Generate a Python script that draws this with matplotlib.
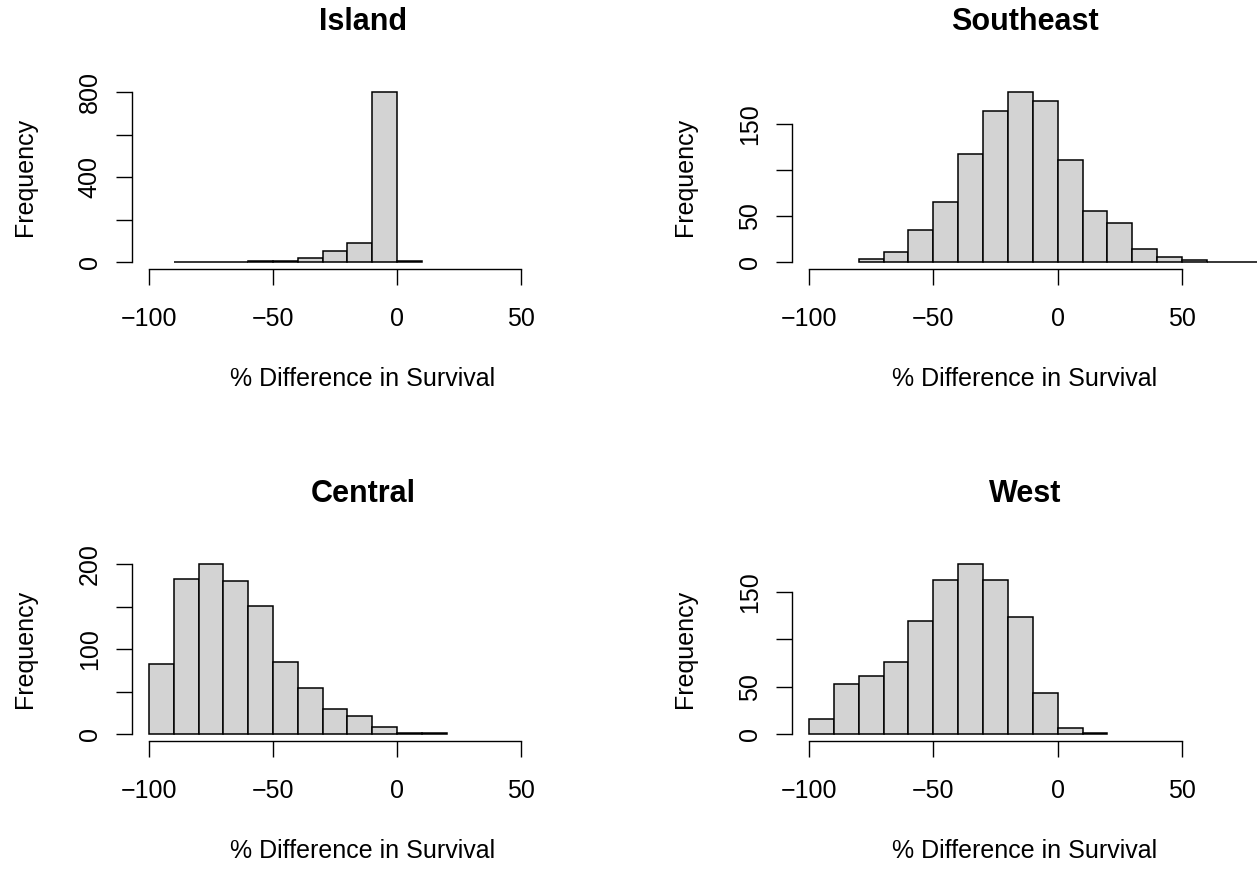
import matplotlib
matplotlib.use("Agg")
import matplotlib.pyplot as plt

plt.rcParams['font.family'] = ['Liberation Sans', 'DejaVu Sans']

# ---------------- data ----------------
island_edges = [-90, -80, -70, -60, -50, -40, -30, -20, -10, 0, 10]
island_counts = [2, 3, 2, 5, 8, 23, 52, 93, 802, 5]

southeast_edges = [-80, -70, -60, -50, -40, -30, -20, -10, 0, 10, 20, 30, 40, 50, 60, 70, 80, 90]
southeast_counts = [4, 11, 35, 66, 118, 164, 185, 175, 111, 56, 43, 15, 6, 3, 1, 1, 1]

central_edges = [-100, -90, -80, -70, -60, -50, -40, -30, -20, -10, 0, 10, 20]
central_counts = [83, 183, 200, 180, 151, 85, 54, 30, 22, 9, 2, 1]

west_edges = [-100, -90, -80, -70, -60, -50, -40, -30, -20, -10, 0, 10, 20]
west_counts = [16, 53, 61, 76, 119, 162, 179, 162, 123, 43, 7, 1]

titles = ["Island", "Southeast", "Central", "West"]
x_ticks = [-100, -50, 0, 50]
x_tick_labels = ["\u2212100", "\u221250", "0", "50"]
island_yticks = [0, 200, 400, 600, 800]
island_ylabels = ["0", "", "400", "", "800"]
se_yticks = [0, 50, 100, 150]
se_ylabels = ["0", "50", "", "150"]
central_yticks = [0, 50, 100, 150, 200]
central_ylabels = ["0", "", "100", "", "200"]
west_yticks = [0, 50, 100, 150]
west_ylabels = ["0", "50", "", "150"]
xlabel = "% Difference in Survival"
ylabel = "Frequency"

# ---------------- layout (pixels) ----------------
W, H = 1257, 869
fig = plt.figure(figsize=(W / 100, H / 100), dpi=100)

FS = 18
TFS = 22

panels = [
    # edges, counts, title, yticks, ylabels, x0, x1, ytop, ybot, px(-100), px(50), center_x, ylab_x, title_y, xlab_y
    (island_edges, island_counts, titles[0], island_yticks, island_ylabels, 131.7, 594, 85, 269.3, 149, 521, 363, 25, 22, 379),
    (southeast_edges, southeast_counts, titles[1], se_yticks, se_ylabels, 791.7, 1320, 85, 269.3, 809, 1182, 1025, 685, 22, 379),
    (central_edges, central_counts, titles[2], central_yticks, central_ylabels, 131.7, 594, 557.5, 741, 149, 521, 363, 25, 494, 851),
    (west_edges, west_counts, titles[3], west_yticks, west_ylabels, 791.7, 1320, 557.5, 741, 809, 1182, 1025, 685, 494, 851),
]

for (edges, counts, title, yt, yl, x0, x1, ytop, ybot, pa, pb, cx, ylx, ty, xly) in panels:
    ax = fig.add_axes([x0 / W, 1 - ybot / H, (x1 - x0) / W, (ybot - ytop) / H])
    s = (pb - pa) / 150.0
    ax.set_xlim(-100 - (pa - x0) / s, 50 + (x1 - pb) / s)
    M = max(counts)
    ax.set_ylim(-0.04 * M, 1.04 * M)
    widths = [edges[i + 1] - edges[i] for i in range(len(counts))]
    ax.bar(edges[:-1], counts, width=widths, align='edge', color='#D3D3D3',
           edgecolor='black', linewidth=1.1, clip_on=False)
    ax.patch.set_visible(False)
    for sp in ('top', 'right'):
        ax.spines[sp].set_visible(False)
    ax.spines['bottom'].set_bounds(-100, 50)
    ax.spines['left'].set_bounds(yt[0], yt[-1])
    ax.spines['bottom'].set_linewidth(1.0)
    ax.spines['left'].set_linewidth(1.0)
    ax.set_xticks(x_ticks, x_tick_labels)
    ax.set_yticks(yt, yl)
    ax.tick_params(axis='x', direction='out', length=11.5, width=1.0, labelsize=FS, pad=16)
    ax.tick_params(axis='y', direction='out', length=11.5, width=1.0, labelsize=FS, pad=10)
    for lbl in ax.get_yticklabels():
        lbl.set_rotation(90)
        lbl.set_va('center')
        lbl.set_ha('right')
    ycen = (ytop + ybot) / 2
    fig.text(cx / W, 1 - ty / H, title, ha='center', va='center', fontsize=TFS, fontweight='bold')
    fig.text(ylx / W, 1 - ycen / H, ylabel, ha='center', va='center', rotation=90, fontsize=FS)
    fig.text(cx / W, 1 - xly / H, xlabel, ha='center', va='center', fontsize=FS)

fig.savefig("out.png", dpi=100)
